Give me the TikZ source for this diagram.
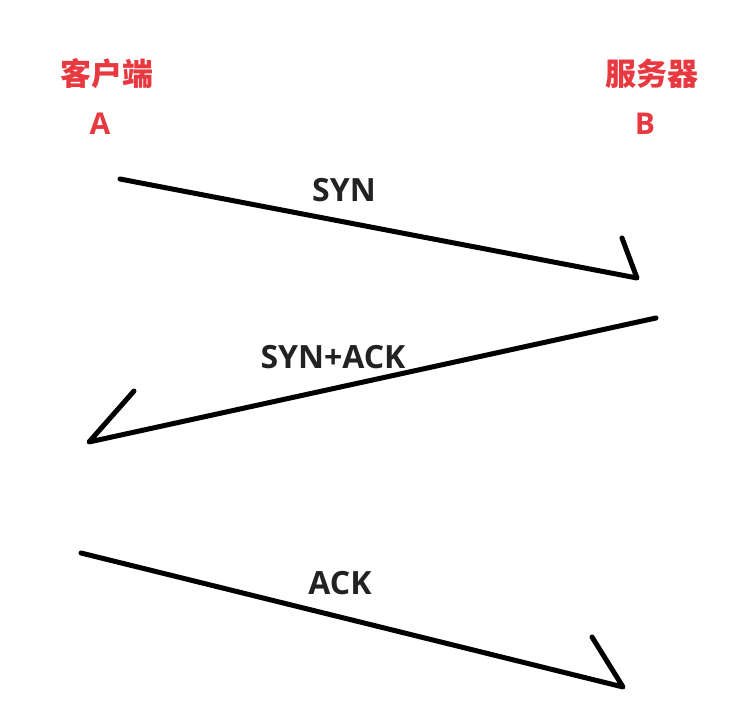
\documentclass[tikz,border=0pt]{standalone}
\usepackage{fontspec}
\setmainfont{Open Sans}
\newfontfamily\cjk{Noto Sans CJK SC}
\definecolor{lblred}{RGB}{232,56,64}
\definecolor{txtdark}{RGB}{34,34,34}
\tikzset{
  party/.style={text=lblred, font=\cjk\bfseries\fontsize{31}{34}\selectfont, inner sep=0pt},
  partyletter/.style={text=lblred, font=\bfseries\fontsize{30}{32}\selectfont, inner sep=0pt},
  msg/.style={text=txtdark, font=\bfseries\fontsize{32}{34}\selectfont, inner sep=0pt},
  stroke/.style={line width=5pt, line cap=round, line join=round, black}
}
\begin{document}
\begin{tikzpicture}[x=1pt,y=-1pt]
\useasboundingbox[fill=white] (0,0) rectangle (737,715);
\node[party] (client) at (107,74) {客户端};
\node[partyletter] (A) at (100,124) {A};
\node[party] (server) at (652,74) {服务器};
\node[partyletter] (B) at (645,124) {B};
\node[msg] (syn) at (344,190) {SYN};
\node[msg] (synack) at (333,357) {SYN+ACK};
\node[msg] (ack) at (340,583) {ACK};
\coordinate (s1) at (120,179);
\coordinate (e1) at (637,278);
\coordinate (h1) at (622,238);
\coordinate (s2) at (656,318);
\coordinate (e2) at (89,442);
\coordinate (h2) at (134,391);
\coordinate (s3) at (81,553);
\coordinate (e3) at (623,687);
\coordinate (h3) at (592,637);
\draw[stroke] (s1) -- (e1) -- (h1);
\draw[stroke] (s2) -- (e2) -- (h2);
\draw[stroke] (s3) -- (e3) -- (h3);
\end{tikzpicture}
\end{document}
